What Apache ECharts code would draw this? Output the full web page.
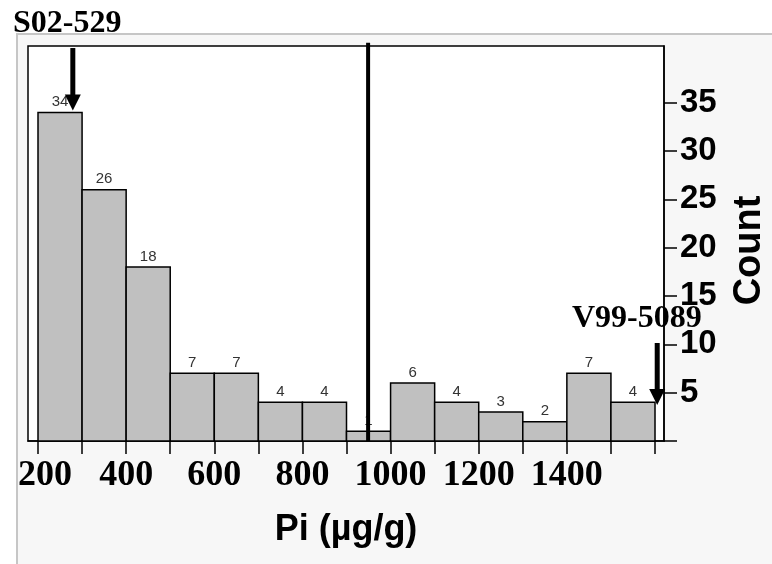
<!DOCTYPE html>
<html>
<head>
<meta charset="utf-8">
<script src="https://cdn.jsdelivr.net/npm/echarts@6/dist/echarts.min.js"></script>
<style>html,body{margin:0;padding:0;background:#fff;}#chart{width:772px;height:564px;}</style>
</head>
<body>
<div id="chart"></div>
<script>
// ---- data ----
const binEdges = [200,300,400,500,600,700,800,900,1000,1100,1200,1300,1400,1500,1600];
const counts = [34,26,18,7,7,4,4,1,6,4,3,2,7,4];
const xTickValues = [200,300,400,500,600,700,800,900,1000,1100,1200,1300,1400,1500,1600];
const xLabelValues = [200,400,600,800,1000,1200,1400];
const yTickValues = [0,5,10,15,20,25,30,35];
const yLabelValues = [5,10,15,20,25,30,35];
const arrowNames = ['S02-529','V99-5089'];
const arrowX = [279, 1605];
const arrowStart = [40.66, 10.14];
const arrowTip = [34.2, 3.72];
const cutoffX = [949];
const cutoffTop = [41.2];
const xName = 'Pi (µg/g)';
const yName = 'Count';

const binData = counts.map((c, i) => [binEdges[i], binEdges[i+1], c]);
const arrowData = arrowX.map((x, i) => [x, arrowStart[i], arrowTip[i]]);
const cutoffData = cutoffX.map((x, i) => [x, 0, cutoffTop[i]]);

const chart = echarts.init(document.getElementById('chart'), null, {renderer: 'canvas'});
const option = {
  backgroundColor: '#ffffff',
  animation: false,
  graphic: [
    {type: 'rect', z: -5, shape: {x: 17, y: 34, width: 800, height: 600},
     style: {fill: '#f7f7f7', stroke: '#c6c6c6', lineWidth: 2}},
    {type: 'text', z: 100, x: 13, y: 24,
     style: {text: arrowNames[0], font: 'bold 32px "Liberation Serif"', fill: '#000', verticalAlign: 'middle'}},
    {type: 'text', z: 100, x: 572, y: 319,
     style: {text: arrowNames[1], font: 'bold 32px "Liberation Serif"', fill: '#000', verticalAlign: 'middle'}}
  ],
  grid: {left: 28, right: 108, top: 46, bottom: 123, show: true, backgroundColor: '#ffffff',
         borderColor: '#000', borderWidth: 1.5, containLabel: false, outerBoundsMode: 'none'},
  xAxis: {
    type: 'value', min: 177.3, max: 1620.4,
    name: xName, nameLocation: 'middle', nameGap: 71, nameMoveOverlap: false,
    nameTextStyle: {fontFamily: 'Liberation Sans', fontWeight: 'bold', fontSize: 36, color: '#000'},
    axisLine: {show: true, onZero: false, lineStyle: {color: '#000', width: 1.5}},
    axisTick: {show: true, length: 13, customValues: xTickValues, lineStyle: {color: '#000', width: 1.5}},
    axisLabel: {
      customValues: xLabelValues, margin: 17, hideOverlap: false,
      fontFamily: 'Liberation Serif', fontWeight: 'bold', fontSize: 36, color: '#000',
      formatter: v => v === 200 ? '{a|' + v + '}' : String(v),
      rich: {a: {fontFamily: 'Liberation Serif', fontWeight: 'bold', fontSize: 36, color: '#000', padding: [0,0,0,14]}}
    },
    splitLine: {show: false}
  },
  yAxis: {
    type: 'value', position: 'right', min: 0, max: 40.87,
    name: yName, nameLocation: 'middle', nameRotate: 90, nameGap: 67, nameMoveOverlap: false,
    nameTextStyle: {fontFamily: 'Liberation Sans', fontWeight: 'bold', fontSize: 38, color: '#000', padding: [0,14,0,0]},
    axisLine: {show: true, lineStyle: {color: '#000', width: 1.5}},
    axisTick: {show: true, length: 13, customValues: yTickValues, lineStyle: {color: '#000', width: 1.5}},
    axisLabel: {customValues: yLabelValues, margin: 16, hideOverlap: false,
      fontFamily: 'Liberation Sans', fontWeight: 'bold', fontSize: 33, color: '#000'},
    splitLine: {show: false}
  },
  series: [
    {
      type: 'custom', name: 'bins', data: binData, z: 2,
      encode: {x: [0, 1], y: 2},
      renderItem: function (params, api) {
        const p0 = api.coord([api.value(0), api.value(2)]);
        const p1 = api.coord([api.value(1), 0]);
        return {
          type: 'group',
          children: [
            {type: 'rect', shape: {x: p0[0], y: p0[1], width: p1[0] - p0[0], height: p1[1] - p0[1]},
             style: {fill: '#c0c0c0', stroke: '#000', lineWidth: 1.5}},
            {type: 'text', style: {text: String(api.value(2)), x: (p0[0] + p1[0]) / 2, y: p0[1] - 3,
             align: 'center', verticalAlign: 'bottom', font: '15px "Liberation Sans"', fill: '#333'}}
          ]
        };
      }
    },
    {
      type: 'custom', name: 'cutoff', data: cutoffData, z: 5, clip: false,
      renderItem: function (params, api) {
        const a = api.coord([api.value(0), api.value(1)]);
        const b = api.coord([api.value(0), api.value(2)]);
        return {type: 'line', shape: {x1: a[0], y1: a[1], x2: b[0], y2: b[1]},
                style: {stroke: '#000', lineWidth: 4}};
      }
    },
    {
      type: 'custom', name: 'arrows', data: arrowData, z: 6, clip: false,
      renderItem: function (params, api) {
        const s = api.coord([api.value(0), api.value(1)]);
        const t = api.coord([api.value(0), api.value(2)]);
        const hw = 8, hh = 16;
        return {
          type: 'group',
          children: [
            {type: 'line', shape: {x1: s[0], y1: s[1], x2: t[0], y2: t[1] - hh + 2},
             style: {stroke: '#000', lineWidth: 5}},
            {type: 'polygon', shape: {points: [[t[0] - hw, t[1] - hh], [t[0] + hw, t[1] - hh], [t[0], t[1]]]},
             style: {fill: '#000'}}
          ]
        };
      }
    }
  ]
};
chart.setOption(option);
</script>
</body>
</html>
